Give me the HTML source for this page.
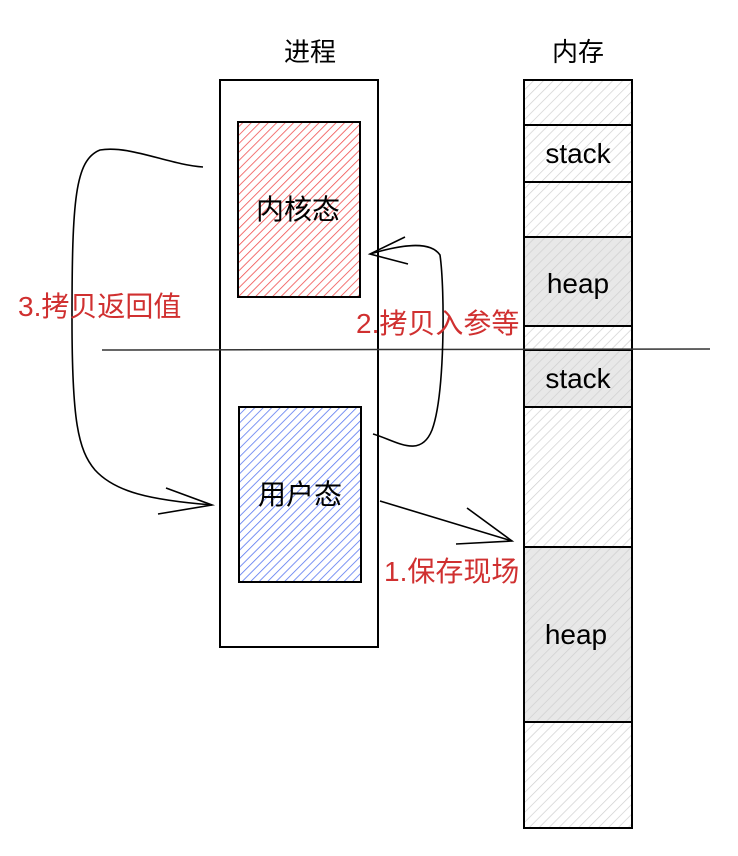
<!DOCTYPE html>
<html><head><meta charset="utf-8"><style>
html,body{margin:0;padding:0;background:#fff;width:738px;height:856px;overflow:hidden}
text{font-family:"Liberation Sans","Noto Sans CJK SC",sans-serif}
</style></head><body>
<svg width="738" height="856" viewBox="0 0 738 856" xmlns="http://www.w3.org/2000/svg">
<defs>
<pattern id="pr" width="6" height="6" patternUnits="userSpaceOnUse" patternTransform="rotate(45)"><line x1="0" y1="0" x2="0" y2="6" stroke="#f05050" stroke-width="1.6"/></pattern>
<pattern id="pb" width="6" height="6" patternUnits="userSpaceOnUse" patternTransform="rotate(45)"><line x1="0" y1="0" x2="0" y2="6" stroke="#5a78f0" stroke-width="1.6"/></pattern>
<pattern id="pg" width="7" height="7" patternUnits="userSpaceOnUse" patternTransform="rotate(45)"><line x1="0" y1="0" x2="0" y2="7" stroke="#cfcfcf" stroke-width="1.4"/></pattern>
</defs>
<text x="310" y="61" font-size="26" text-anchor="middle" fill="#000">进程</text>
<text x="578" y="61" font-size="26" text-anchor="middle" fill="#000">内存</text>
<rect x="220" y="80" width="158" height="567" fill="#fff" stroke="#000" stroke-width="2"/>
<rect x="238" y="122" width="122" height="175" fill="url(#pr)" stroke="#000" stroke-width="2"/>
<rect x="239" y="407" width="122" height="175" fill="url(#pb)" stroke="#000" stroke-width="2"/>
<text x="298" y="219" font-size="28" text-anchor="middle">内核态</text>
<text x="300" y="504" font-size="28" text-anchor="middle">用户态</text>
<rect x="524" y="80" width="108" height="748" fill="url(#pg)" stroke="#000" stroke-width="2"/>
<rect x="525" y="237" width="106" height="89" fill="#e8e8e8"/>
<rect x="525" y="350" width="106" height="57" fill="#e8e8e8"/>
<rect x="525" y="547" width="106" height="175" fill="#e8e8e8"/>
<rect x="525" y="237" width="106" height="89" fill="url(#pg)"/>
<rect x="525" y="350" width="106" height="57" fill="url(#pg)"/>
<rect x="525" y="547" width="106" height="175" fill="url(#pg)"/>
<rect x="524" y="125" width="108" height="57" fill="none" stroke="#000" stroke-width="2"/>
<rect x="524" y="237" width="108" height="89" fill="none" stroke="#000" stroke-width="2"/>
<rect x="524" y="350" width="108" height="57" fill="none" stroke="#000" stroke-width="2"/>
<rect x="524" y="547" width="108" height="175" fill="none" stroke="#000" stroke-width="2"/>
<text x="578" y="163" font-size="28" text-anchor="middle">stack</text>
<text x="578" y="293" font-size="28" text-anchor="middle">heap</text>
<text x="578" y="388" font-size="28" text-anchor="middle">stack</text>
<text x="576" y="644" font-size="28" text-anchor="middle">heap</text>
<line x1="102" y1="350" x2="710" y2="349" stroke="#333" stroke-width="1.5"/>
<g fill="none" stroke="#000" stroke-width="1.6">
<path d="M203,167 C170,165 130,145 100,150 C75,160 72,200 72,320 C72,420 78,450 95,470 C115,492 150,500 212,505"/>
<path d="M166,488 L212,505 L158,514"/>
<path d="M373,434 C395,440 420,460 432,430 C445,395 445,290 440,255 C430,240 400,245 370,254"/>
<path d="M405,237 L370,254 L408,264"/>
<path d="M380,501 L512,541"/>
<path d="M467,508 L512,541 L456,544"/>
</g>
<text x="18" y="316" font-size="28" fill="#d03030">3.拷贝返回值</text>
<text x="356" y="333" font-size="28" fill="#d03030">2.拷贝入参等</text>
<text x="384" y="581" font-size="28" fill="#d03030">1.保存现场</text>
</svg>
</body></html>
